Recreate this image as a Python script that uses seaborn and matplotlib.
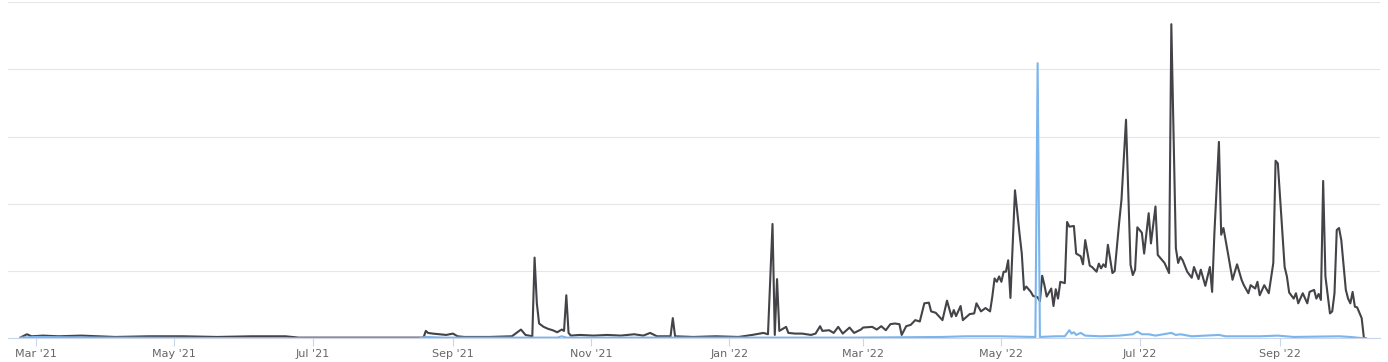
import matplotlib
matplotlib.use("Agg")
import matplotlib.pyplot as plt
import matplotlib.dates as mdates
import seaborn as sns
import pandas as pd

# ---- data ----
dark_dates = [
    "2021-02-22", "2021-02-25", "2021-02-27", "2021-03-04", "2021-03-11", "2021-03-21", "2021-04-05", "2021-04-20", "2021-05-05", "2021-05-20",
    "2021-06-04", "2021-06-19", "2021-06-25", "2021-08-19", "2021-08-20", "2021-08-21", "2021-08-23", "2021-08-26", "2021-08-29", "2021-09-01",
    "2021-09-03", "2021-09-06", "2021-09-17", "2021-09-27", "2021-10-01", "2021-10-03", "2021-10-06", "2021-10-07", "2021-10-08", "2021-10-09",
    "2021-10-11", "2021-10-13", "2021-10-15", "2021-10-17", "2021-10-19", "2021-10-20", "2021-10-21", "2021-10-22", "2021-10-23", "2021-10-27",
    "2021-11-02", "2021-11-08", "2021-11-14", "2021-11-20", "2021-11-24", "2021-11-27", "2021-11-30", "2021-12-06", "2021-12-07", "2021-12-08",
    "2021-12-16", "2021-12-26", "2022-01-05", "2022-01-11", "2022-01-16", "2022-01-18", "2022-01-20", "2022-01-21", "2022-01-22", "2022-01-23",
    "2022-01-26", "2022-01-27", "2022-01-30", "2022-02-02", "2022-02-06", "2022-02-08", "2022-02-10", "2022-02-11", "2022-02-14", "2022-02-16",
    "2022-02-18", "2022-02-20", "2022-02-23", "2022-02-25", "2022-02-28", "2022-03-01", "2022-03-05", "2022-03-07", "2022-03-09", "2022-03-11",
    "2022-03-13", "2022-03-15", "2022-03-17", "2022-03-18", "2022-03-20", "2022-03-22", "2022-03-24", "2022-03-26", "2022-03-28", "2022-03-30",
    "2022-03-31", "2022-04-02", "2022-04-05", "2022-04-07", "2022-04-09", "2022-04-10", "2022-04-11", "2022-04-13", "2022-04-14", "2022-04-17",
    "2022-04-19", "2022-04-20", "2022-04-22", "2022-04-24", "2022-04-26", "2022-04-27", "2022-04-28", "2022-04-29", "2022-04-30", "2022-05-01",
    "2022-05-02", "2022-05-03", "2022-05-04", "2022-05-05", "2022-05-07", "2022-05-09", "2022-05-10", "2022-05-11", "2022-05-12", "2022-05-14",
    "2022-05-15", "2022-05-17", "2022-05-18", "2022-05-19", "2022-05-20", "2022-05-21", "2022-05-23", "2022-05-24", "2022-05-25", "2022-05-26",
    "2022-05-27", "2022-05-29", "2022-05-30", "2022-05-31", "2022-06-02", "2022-06-03", "2022-06-05", "2022-06-06", "2022-06-07", "2022-06-09",
    "2022-06-10", "2022-06-12", "2022-06-13", "2022-06-14", "2022-06-15", "2022-06-16", "2022-06-17", "2022-06-19", "2022-06-20", "2022-06-22",
    "2022-06-23", "2022-06-25", "2022-06-27", "2022-06-28", "2022-06-29", "2022-06-30", "2022-07-02", "2022-07-03", "2022-07-05", "2022-07-06",
    "2022-07-08", "2022-07-09", "2022-07-11", "2022-07-12", "2022-07-14", "2022-07-15", "2022-07-17", "2022-07-18", "2022-07-19", "2022-07-20",
    "2022-07-22", "2022-07-24", "2022-07-25", "2022-07-27", "2022-07-28", "2022-07-30", "2022-08-01", "2022-08-02", "2022-08-03", "2022-08-05",
    "2022-08-06", "2022-08-07", "2022-08-09", "2022-08-11", "2022-08-13", "2022-08-15", "2022-08-16", "2022-08-18", "2022-08-19", "2022-08-21",
    "2022-08-22", "2022-08-23", "2022-08-25", "2022-08-27", "2022-08-29", "2022-08-30", "2022-08-31", "2022-09-03", "2022-09-04", "2022-09-05",
    "2022-09-07", "2022-09-08", "2022-09-09", "2022-09-11", "2022-09-13", "2022-09-14", "2022-09-16", "2022-09-17", "2022-09-18", "2022-09-19",
    "2022-09-20", "2022-09-21", "2022-09-23", "2022-09-24", "2022-09-25", "2022-09-26", "2022-09-27", "2022-09-28", "2022-09-30", "2022-10-01",
    "2022-10-02", "2022-10-03", "2022-10-04", "2022-10-05", "2022-10-07", "2022-10-08", "2022-10-09",
]
dark_values = [
    1, 6, 3, 4, 3, 4, 2, 3, 3, 2,
    3, 3, 1, 1, 11, 8, 7, 6, 5, 7,
    3, 2, 2, 3, 13, 5, 3, 120, 52, 22,
    17, 14, 12, 9, 13, 11, 64, 8, 4, 5,
    4, 5, 4, 6, 4, 8, 3, 3, 30, 3,
    2, 3, 2, 5, 8, 6, 170, 5, 88, 11,
    17, 8, 7, 7, 5, 7, 18, 11, 12, 8,
    17, 7, 16, 8, 13, 16, 17, 13, 18, 12,
    21, 22, 21, 5, 18, 20, 27, 25, 52, 53,
    40, 38, 27, 56, 32, 42, 33, 48, 27, 36,
    37, 52, 40, 45, 40, 62, 89, 84, 92, 84,
    99, 99, 116, 60, 220, 156, 126, 72, 77, 69,
    63, 61, 55, 93, 79, 62, 74, 48, 73, 59,
    84, 82, 173, 166, 167, 126, 122, 110, 146, 108,
    106, 99, 111, 104, 110, 106, 139, 97, 100, 173,
    206, 325, 109, 94, 102, 165, 157, 126, 186, 141,
    196, 124, 116, 112, 97, 467, 134, 112, 121, 116,
    99, 90, 106, 88, 102, 78, 106, 69, 156, 292,
    154, 164, 126, 87, 110, 87, 79, 67, 79, 74,
    84, 64, 79, 67, 112, 264, 260, 106, 92, 68,
    59, 67, 52, 67, 52, 69, 72, 59, 66, 57,
    234, 92, 37, 40, 67, 161, 164, 146, 72, 59,
    52, 69, 47, 46, 30, 0, 0,
]

blue_dates = [
    "2021-02-22", "2021-03-01", "2021-03-31", "2021-06-29", "2021-08-17", "2021-08-20", "2021-08-28", "2021-10-17", "2021-10-19", "2021-10-21",
    "2021-12-26", "2022-02-23", "2022-04-05", "2022-04-15", "2022-04-30", "2022-05-16", "2022-05-17", "2022-05-18", "2022-05-25", "2022-05-29",
    "2022-05-31", "2022-06-01", "2022-06-02", "2022-06-03", "2022-06-05", "2022-06-07", "2022-06-14", "2022-06-22", "2022-06-28", "2022-06-30",
    "2022-07-02", "2022-07-05", "2022-07-08", "2022-07-15", "2022-07-17", "2022-07-19", "2022-07-24", "2022-08-05", "2022-08-08", "2022-08-23",
    "2022-08-31", "2022-09-07", "2022-09-27", "2022-10-02", "2022-10-08", "2022-10-09",
]
blue_values = [
    1, 2, 1, 0, 0, 2, 1, 1, 3, 1,
    1, 1, 2, 3, 3, 2, 409, 2, 3, 3,
    12, 7, 9, 5, 8, 4, 3, 4, 6, 10,
    6, 6, 4, 8, 5, 6, 3, 5, 3, 3,
    4, 2, 3, 2, 0, 0,
]

tick_dates = ["2021-03-01", "2021-05-01", "2021-07-01", "2021-09-01", "2021-11-01",
              "2022-01-01", "2022-03-01", "2022-05-01", "2022-07-01", "2022-09-01"]
tick_labels = ["Mar '21", "May '21", "Jul '21", "Sep '21", "Nov '21",
               "Jan '22", "Mar '22", "May '22", "Jul '22", "Sep '22"]
grid_levels = [0, 100, 200, 300, 400, 500]

# ---- figure ----
sns.set_theme(style="white")
plt.rcParams["font.family"] = ["DejaVu Sans"]

W, H = 1388, 362
fig = plt.figure(figsize=(W / 100, H / 100), dpi=100)
left_px, right_px, top_px, base_px = 8, 1380, 2, 338.3
ax = fig.add_axes([left_px / W, (H - base_px) / H, (right_px - left_px) / W, (base_px - top_px) / H])

dark_df = pd.DataFrame({"date": pd.to_datetime(dark_dates), "value": dark_values})
blue_df = pd.DataFrame({"date": pd.to_datetime(blue_dates), "value": blue_values})

sns.lineplot(data=dark_df, x="date", y="value", color="#434348", linewidth=1.5, ax=ax, zorder=3)
sns.lineplot(data=blue_df, x="date", y="value", color="#7cb5ec", linewidth=1.5, ax=ax, zorder=4)

ax.set_xlim(pd.Timestamp("2021-02-16 15:00"), pd.Timestamp("2022-10-15 02:00"))
ax.set_ylim(grid_levels[0], grid_levels[-1])
ax.set_yticks(grid_levels)
ax.set_yticklabels([])
ax.yaxis.grid(True, color="#e6e6e6", linewidth=0.8)
ax.xaxis.grid(False)
ax.set_axisbelow(True)
ax.tick_params(axis="y", length=0)

ax.set_xticks(pd.to_datetime(tick_dates))
ax.set_xticklabels(tick_labels)
ax.tick_params(axis="x", direction="out", length=6, width=0.8, color="#ccd6eb",
               labelsize=8, labelcolor="#666666", pad=1.5, bottom=True)

for side in ["left", "right", "top"]:
    ax.spines[side].set_visible(False)
ax.spines["bottom"].set_color("#ccd6eb")
ax.spines["bottom"].set_linewidth(0.8)
ax.spines["bottom"].set_zorder(2)

ax.set_xlabel("")
ax.set_ylabel("")

fig.savefig("out.png", dpi=100)
